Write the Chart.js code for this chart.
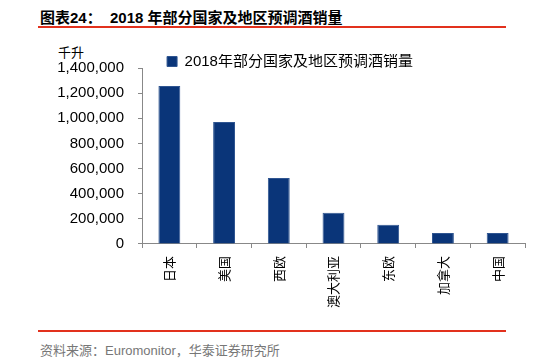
<!DOCTYPE html>
<html>
<head>
<meta charset="utf-8">
<script src="https://cdn.jsdelivr.net/npm/chart.js@4"></script>
<style>
  body { margin: 0; background: #fff; width: 554px; height: 361px; position: relative; overflow: hidden; }
  .title { position: absolute; left: 40px; top: 6px; font: bold 15px "Liberation Sans", "Noto Sans CJK SC"; color: #000; white-space: pre; }
  .rule { position: absolute; left: 38px; width: 468px; height: 2px; background: #e2311d; }
  .unit { position: absolute; left: 58px; top: 42px; font: 13px "Noto Sans CJK SC"; color: #000; }
  .source { position: absolute; left: 40px; top: 340px; font: 13px "Liberation Sans", "Noto Sans CJK SC"; color: #777; }
  #wrap { position: absolute; left: 0; top: 36px; width: 554px; height: 280px; }
</style>
</head>
<body>
<div class="title">图表24：  2018 年部分国家及地区预调酒销量</div>
<div class="rule" style="top:26px"></div>
<div class="unit">千升</div>
<div id="wrap"><canvas id="chart"></canvas></div>
<div class="rule" style="top:330px"></div>
<div class="source">资料来源：Euromonitor，华泰证券研究所</div>
<script>
const categories = ['日本', '美国', '西欧', '澳大利亚', '东欧', '加拿大', '中国'];
const seriesName = '2018年部分国家及地区预调酒销量';
const sales = [1256000, 970000, 525000, 248000, 154000, 88000, 88000];
const yMax = 1400000;
const yStep = 200000;

const axisColor = '#888888';
const barColor = '#0a3579';

const config = {
  type: 'bar',
  data: {
    labels: categories,
    datasets: [
      {
        label: seriesName,
        data: sales,
        backgroundColor: barColor,
        borderColor: '#2f5591',
        borderWidth: 1,
        categoryPercentage: 1,
        barPercentage: 0.4,
      }
    ]
  },
  options: {
    responsive: true,
    maintainAspectRatio: false,
    animation: false,
    layout: { padding: { left: 55, right: 29, top: 18, bottom: 0 } },
    plugins: {
      tooltip: { enabled: false },
      legend: {
        position: 'top',
        maxHeight: 14, // keep the legend tight above the plot like the original
        labels: {
          boxWidth: 10,
          boxHeight: 10,
          padding: 0,
          color: '#000',
          font: { size: 15, family: '"Liberation Sans", "Noto Sans CJK SC"' }
        }
      }
    },
    scales: {
      x: {
        grid: { offset: true, drawOnChartArea: false, drawTicks: true, tickLength: 4, color: axisColor },
        border: { color: axisColor },
        ticks: {
          minRotation: 90,
          maxRotation: 90,
          padding: 8,
          color: '#000',
          font: { size: 13, family: '"Noto Sans CJK SC"' }
        }
      },
      y: {
        min: 0,
        max: yMax,
        afterFit: (scale) => { scale.width = 87; },
        grid: { drawOnChartArea: false, drawTicks: true, tickLength: 4, color: axisColor },
        border: { color: axisColor },
        ticks: {
          stepSize: yStep,
          padding: 14,
          color: '#000',
          font: { size: 15, family: '"Liberation Sans"' },
          callback: (v) => v.toLocaleString('en-US')
        }
      }
    }
  }
};

new Chart(document.getElementById('chart'), config);
</script>
</body>
</html>
